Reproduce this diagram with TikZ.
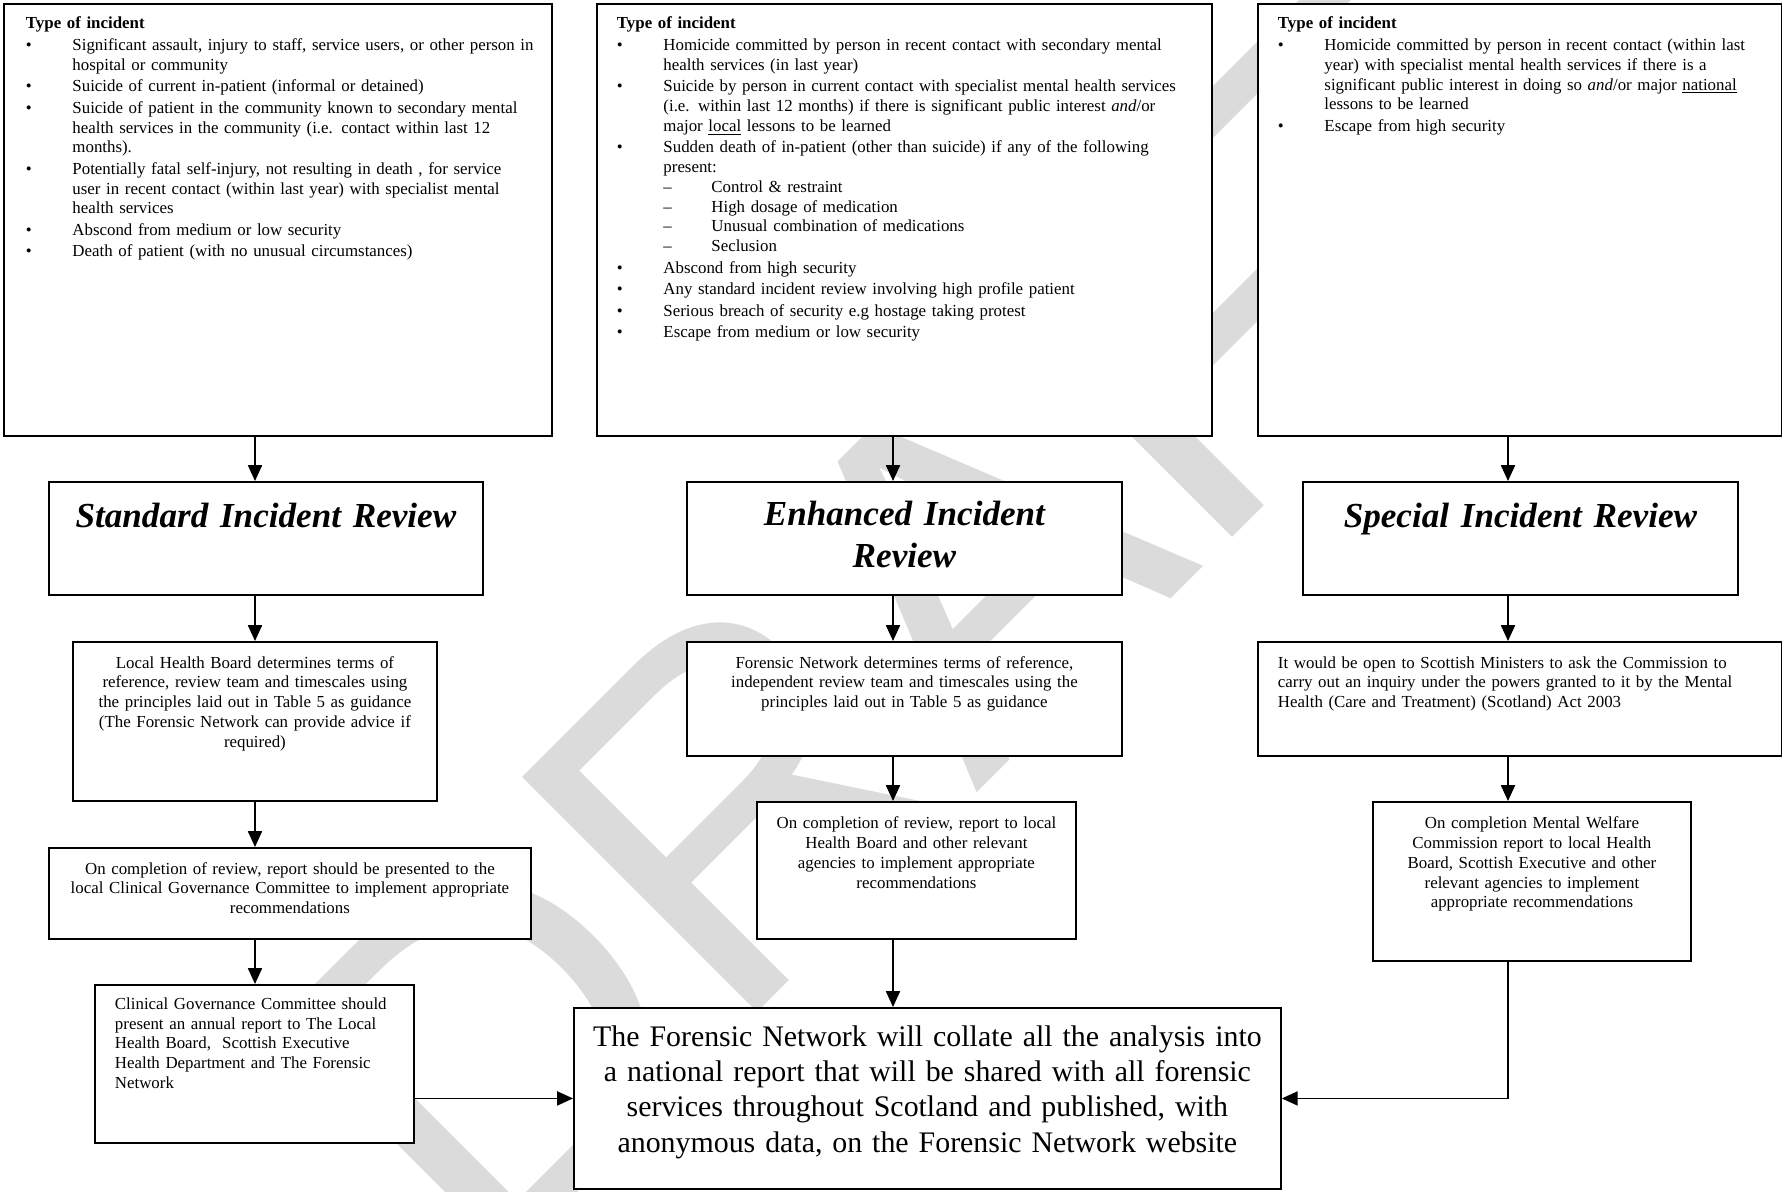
\documentclass[tikz,border=0pt]{standalone}
\usepackage{fontspec}
\setmainfont{Liberation Serif}
\newfontfamily\wmfont{Liberation Sans}
\usepackage{xcolor}
\usepackage{tikz}
\usetikzlibrary{arrows.meta}

\newcommand{\bul}{\makebox[0.93cm][l]{\textbullet}}
\newcommand{\ind}{\hspace*{0.93cm}}
\newcommand{\dsh}{\hspace*{0.93cm}\makebox[0.96cm][l]{\textendash}}

\begin{document}
\begin{tikzpicture}[x=0.02cm, y=-0.02cm, >={Triangle[length=9pt, width=8pt]}, line width=0.9pt,
    box/.style={draw, fill=white, line width=1.1pt, anchor=north west, inner ysep=0pt,
      font=\fontsize{9.6}{11.25}\selectfont},
    listbox/.style={box, align=left, inner xsep=0.4cm, text height=0.5cm, text depth=8.14cm},
    titlebox/.style={box, align=center, inner xsep=0pt, text width=8.7cm,
      font=\fontsize{20}{23.9}\selectfont\bfseries\itshape}]
  \useasboundingbox (0,0) rectangle (1782,1192);
  \fill[white] (0,0) rectangle (1782,1192);
  \begin{scope}
    \clip (0,0) rectangle (1782,1192);
    \node[rotate=45, inner sep=0pt, text=black!14, font=\wmfont\fontsize{275}{275}\selectfont] (wm) at (935,600) {DRAFT};
  \end{scope}

  \node[listbox, inner xsep=0.44cm, text width=10.08cm] (tl) at (3,3) {%
    \textbf{Type of incident}\\[1pt]
    \bul \mbox{Significant assault, injury to staff, service users, or other person in}\\
    \ind hospital or community\\[1pt]
    \bul Suicide of current in-patient (informal or detained)\\[1pt]
    \bul Suicide of patient in the community known to secondary mental\\
    \ind health services in the community (i.e. contact within last 12\\
    \ind months).\\[1pt]
    \bul Potentially fatal self-injury, not resulting in death , for service\\
    \ind user in recent contact (within last year) with specialist mental\\
    \ind health services\\[1pt]
    \bul Abscond from medium or low security\\[1pt]
    \bul Death of patient (with no unusual circumstances)};
  \node[listbox, text width=11.5cm] (tm) at (596,3) {%
    \textbf{Type of incident}\\[1pt]
    \bul Homicide committed by person in recent contact with secondary mental\\
    \ind health services (in last year)\\[1pt]
    \bul \mbox{Suicide by person in current contact with specialist mental health services}\\
    \ind (i.e. within last 12 months) if there is significant public interest \textit{and}/or\\
    \ind major \underline{local} lessons to be learned\\[1pt]
    \bul Sudden death of in-patient (other than suicide) if any of the following\\
    \ind present:\\
    \dsh Control \& restraint\\
    \dsh High dosage of medication\\
    \dsh Unusual combination of medications\\
    \dsh Seclusion\\[1pt]
    \bul Abscond from high security\\[1pt]
    \bul Any standard incident review involving high profile patient\\[1pt]
    \bul Serious breach of security e.g hostage taking protest\\[1pt]
    \bul Escape from medium or low security};
  \node[listbox, text width=9.68cm] (tr) at (1257,3) {%
    \textbf{Type of incident}\\[1pt]
    \bul Homicide committed by person in recent contact (within last\\
    \ind year) with specialist mental health services if there is a\\
    \ind significant public interest in doing so \textit{and}/or major \underline{national}\\
    \ind lessons to be learned\\[1pt]
    \bul Escape from high security};

  \node[titlebox, text width=8.68cm, text height=0.92cm, text depth=1.34cm] (std) at (48,481) {Standard Incident Review};
  \node[titlebox, text height=0.88cm, text depth=1.38cm] (enh) at (686,481) {Enhanced Incident\\Review};
  \node[titlebox, text height=0.92cm, text depth=1.34cm] (spc) at (1302,481) {Special Incident Review};

  \node[box, align=center, inner xsep=0.2cm, text width=6.88cm, text height=0.525cm, text depth=2.655cm] (lhb) at (72,641) {%
    Local Health Board determines terms of\\
    reference, review team and timescales using\\
    the principles laid out in Table 5 as guidance\\
    (The Forensic Network can provide advice if\\
    required)};
  \node[box, align=center, inner xsep=0.2cm, text width=8.3cm, text height=0.525cm, text depth=1.755cm] (fnd) at (686,641) {%
    Forensic Network determines terms of reference,\\
    independent review team and timescales using the\\
    principles laid out in Table 5 as guidance};
  \node[box, align=left, inner xsep=0.4cm, text width=9.68cm, text height=0.525cm, text depth=1.755cm] (itw) at (1257,641) {%
    It would be open to Scottish Ministers to ask the Commission to\\
    carry out an inquiry under the powers granted to it by the Mental\\
    Health (Care and Treatment) (Scotland) Act 2003};

  \node[box, align=center, inner xsep=0.2cm, text width=9.24cm, text height=0.525cm, text depth=1.295cm] (ocs) at (48,847) {%
    On completion of review, report should be presented to the\\
    local Clinical Governance Committee to implement appropriate\\
    recommendations};
  \node[box, align=center, inner xsep=0.2cm, text width=5.98cm, text height=0.535cm, text depth=2.215cm] (oce) at (756,801) {%
    On completion of review, report to local\\
    Health Board and other relevant\\
    agencies to implement appropriate\\
    recommendations};
  \node[box, align=center, inner xsep=0.2cm, text width=5.96cm, text height=0.535cm, text depth=2.655cm] (mwc) at (1372,801) {%
    On completion Mental Welfare\\
    Commission report to local Health\\
    Board, Scottish Executive and other\\
    relevant agencies to implement\\
    appropriate recommendations};

  \node[box, align=left, inner xsep=0.4cm, text width=5.58cm, text height=0.49cm, text depth=2.67cm] (cgc) at (94,984) {%
    Clinical Governance Committee should\\
    present an annual report to The Local\\
    Health Board,\ \ Scottish Executive\\
    Health Department and The Forensic\\
    Network};
  \node[box, align=center, inner xsep=0.2cm, text width=13.74cm, text height=0.775cm, text depth=2.845cm,
    font=\fontsize{17}{20}\selectfont] (fin) at (573,1007) {%
    The Forensic Network will collate all the analysis into\\
    a national report that will be shared with all forensic\\
    services throughout Scotland and published, with\\
    anonymous data, on the Forensic Network website};

  \coordinate (colA) at (255,0);
  \coordinate (colB) at (893,0);
  \coordinate (colC) at (1508,0);

  \draw[->] (tl.south -| colA) -- (std.north -| colA);
  \draw[->] (std.south -| colA) -- (lhb.north -| colA);
  \draw[->] (lhb.south -| colA) -- (ocs.north -| colA);
  \draw[->] (ocs.south -| colA) -- (cgc.north -| colA);
  \draw[->] (cgc.east |- fin.west) -- (fin.west);

  \draw[->] (tm.south -| colB) -- (enh.north -| colB);
  \draw[->] (enh.south -| colB) -- (fnd.north -| colB);
  \draw[->] (fnd.south -| colB) -- (oce.north -| colB);
  \draw[->] (oce.south -| colB) -- (fin.north -| colB);

  \draw[->] (tr.south -| colC) -- (spc.north -| colC);
  \draw[->] (spc.south -| colC) -- (itw.north -| colC);
  \draw[->] (itw.south -| colC) -- (mwc.north -| colC);
  \draw[->] (mwc.south -| colC) |- (fin.east);
\end{tikzpicture}
\end{document}
